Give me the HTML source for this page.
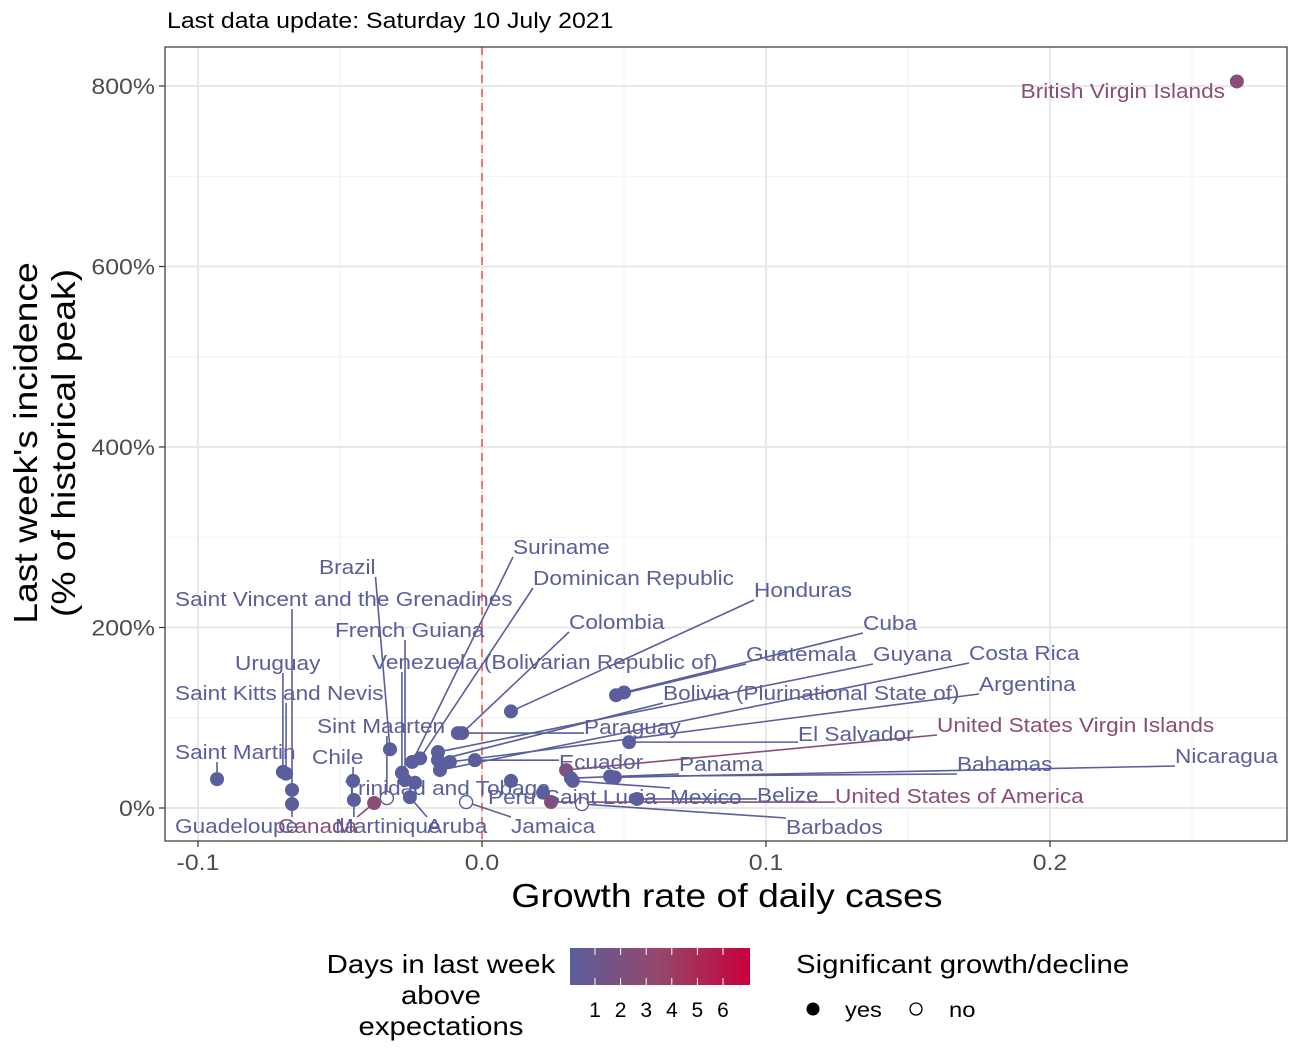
<!DOCTYPE html>
<html><head><meta charset="utf-8"><style>
body{margin:0;background:#fff}
svg{display:block;font-family:"Liberation Sans",Arial,sans-serif}
</style></head><body>
<svg id="chart" width="1299" height="1062" viewBox="0 0 1299 1062" xmlns="http://www.w3.org/2000/svg">
<defs><linearGradient id="cb" x1="0" x2="1" y1="0" y2="0"><stop offset="0" stop-color="#5a5e9c"/><stop offset="0.5" stop-color="#95476a"/><stop offset="1" stop-color="#c8003a"/></linearGradient></defs>
<text class="st" x="167" y="28" font-size="22" fill="#000">Last data update: Saturday 10 July 2021</text>
<rect x="165" y="47" width="1122" height="794" fill="#fff"/>
<g id="grid"></g>
<g id="marks"></g>
<rect x="165" y="47" width="1122" height="794" fill="none" stroke="#333" stroke-width="1.2"/>
<g id="axes"></g>
<text class="st" x="727" y="907" font-size="33" text-anchor="middle" fill="#000">Growth rate of daily cases</text>
<g transform="translate(55,443) rotate(-90)">
<text class="st" x="0" y="-18" font-size="33" text-anchor="middle" fill="#000">Last week's incidence</text>
<text class="st" x="0" y="20" font-size="33" text-anchor="middle" fill="#000">(% of historical peak)</text>
</g>
<g>
<text class="st" x="441" y="973" font-size="26" text-anchor="middle" fill="#000">Days in last week</text>
<text class="st" x="441" y="1004" font-size="26" text-anchor="middle" fill="#000">above</text>
<text class="st" x="441" y="1035" font-size="26" text-anchor="middle" fill="#000">expectations</text>
<rect x="570" y="948" width="180" height="37" fill="url(#cb)"/>
<g id="cbticks"></g>
</g>
<g>
<text class="st" x="796" y="973" font-size="26" fill="#000">Significant growth/decline</text>
<circle cx="813" cy="1009" r="6.5" fill="#000"/>
<text class="st" x="845" y="1017" font-size="21" fill="#000">yes</text>
<circle cx="916" cy="1009" r="6" fill="none" stroke="#000" stroke-width="1.3"/>
<text class="st" x="949" y="1017" font-size="21" fill="#000">no</text>
</g>
</svg>
<script>
const xTicks=[-0.1,0,0.1,0.2];
const xTickLabels=["-0.1","0.0","0.1","0.2"];
const yTicks=[0,200,400,600,800];
const yTickLabels=["0%","200%","400%","600%","800%"];
const countries=["British Virgin Islands","Saint Martin","Uruguay","Saint Kitts and Nevis","Guadeloupe","Saint Vincent and the Grenadines","Chile","Canada","Martinique","Aruba","Sint Maarten","Brazil","Trinidad and Tobago","French Guiana","Venezuela (Bolivarian Republic of)","Suriname","Dominican Republic","Colombia","Honduras","Cuba","Guatemala","Guyana","Costa Rica","Bolivia (Plurinational State of)","Argentina","Paraguay","El Salvador","United States Virgin Islands","Ecuador","Panama","Nicaragua","Bahamas","Peru","Jamaica","Saint Lucia","Mexico","Belize","United States of America","Barbados"];
const growth=[0.2658,-0.0933,-0.0701,-0.0690,-0.0669,-0.0669,-0.0454,-0.0380,-0.0451,-0.0254,-0.0335,-0.0324,-0.0236,-0.0271,-0.0282,-0.0246,-0.0218,-0.0070,0.0102,0.0500,0.0472,-0.0155,-0.0148,-0.0155,-0.0113,-0.0085,0.0518,0.0296,-0.0025,0.0313,0.0468,0.0451,0.0102,-0.0056,0.0215,0.0320,0.0546,0.0243,0.0352];
const incidence=[805,32,40,38,4.4,20,30,5.5,8.9,12,11,65,28,31,39,51,55,83,107,128,125,62,42,53,51,83,73,42,53,33,34,35,30,6.6,17,30,10,6.6,4.4];
const days=[2,1,1,1,1,1,1,2,1,1,1,1,1,1,1,1,1,1,1,1,1,1,1,1,1,1,1,2,1,1,1,1,1,1,1,1,1,2,1];
const significant=[1,1,1,1,1,1,1,1,1,1,0,1,1,1,1,1,1,1,1,1,1,1,1,1,1,1,1,1,1,1,1,1,1,0,1,1,1,1,0];
// label layout (pixel anchors, not data)
const labelLayout=[[1225,98,"end"],[175,759,"start"],[235,670,"start"],[175,700,"start"],[175,833,"start"],[175,606,"start"],[312,764,"start"],[278,833,"start"],[335,833,"start"],[427,833,"start"],[317,733,"start"],[319,574,"start"],[345,795,"start"],[335,637,"start"],[372,669,"start"],[513,554,"start"],[533,585,"start"],[569,629,"start"],[754,597,"start"],[863,630,"start"],[746,661,"start"],[873,661,"start"],[969,660,"start"],[663,700,"start"],[979,691,"start"],[584,734,"start"],[798,741,"start"],[937,732,"start"],[559,769,"start"],[679,771,"start"],[1175,763,"start"],[957,771,"start"],[488,804,"start"],[511,833,"start"],[545,804,"start"],[670,804,"start"],[757,802,"start"],[835,803,"start"],[786,834,"start"]];
const X=v=>482+v*2840, Y=v=>808-v*0.9025;
const col=d=>d>=2?"#8a4d76":"#5a5e9c";
const NS="http://www.w3.org/2000/svg";
const STRETCH=1.13;
function mk(t,a,p){const e=document.createElementNS(NS,t);for(const k in a)e.setAttribute(k,a[k]);p.appendChild(e);return e;}
function stretch(t){const n=t.getComputedTextLength();t.setAttribute('textLength',n*STRETCH);t.setAttribute('lengthAdjust','spacingAndGlyphs');}
const grid=document.getElementById('grid');
[-0.05,0.05,0.15,0.25].forEach(v=>{const l=mk('line',{x1:X(v),x2:X(v),y1:47,y2:841,stroke:'#f2f2f2','stroke-width':1},grid);

});
[100,300,500,700].forEach(v=>{const l=mk('line',{x1:165,x2:1287,y1:Y(v),y2:Y(v),stroke:'#f2f2f2','stroke-width':1},grid);

});
xTicks.forEach(v=>{const l=mk('line',{x1:X(v),x2:X(v),y1:47,y2:841,stroke:'#e8e8e8','stroke-width':2},grid);

});
yTicks.forEach(v=>{const l=mk('line',{x1:165,x2:1287,y1:Y(v),y2:Y(v),stroke:'#e8e8e8','stroke-width':2},grid);

});
const marks=document.getElementById('marks');
const zl=mk('line',{x1:X(0),x2:X(0),y1:47,y2:841,stroke:'#f8766d','stroke-width':2,'stroke-dasharray':'8,6'},marks);


const segs=mk('g',{},marks),pts=mk('g',{},marks),labs=mk('g',{},marks);
countries.forEach((c,i)=>{
 const px=X(growth[i]),py=Y(incidence[i]),L=labelLayout[i],cc=col(days[i]);
 const t=mk('text',{x:L[0],y:L[1],'font-size':20,fill:cc,'text-anchor':L[2]},labs);t.textContent=c;
 
 
 stretch(t);
 const w=t.getComputedTextLength()*0+parseFloat(t.getAttribute('textLength'));
 const x0=L[2]=="end"?L[0]-w:L[0], x1=x0+w, y0=L[1]-16, y1=L[1]+3;
 if(i>0){
  const ex=Math.min(Math.max(px,x0),x1), ey=Math.min(Math.max(py,y0),y1);
  const s=mk('line',{x1:px,y1:py,x2:ex,y2:ey,stroke:cc,'stroke-width':1.6},segs);
  
  
 }
 const p=significant[i]?mk('circle',{cx:px,cy:py,r:7,fill:cc},pts):mk('circle',{cx:px,cy:py,r:6.5,fill:'#fff',stroke:cc,'stroke-width':1.4},pts);
 
 
});
const axes=document.getElementById('axes');
xTicks.forEach((v,i)=>{const k=mk('line',{x1:X(v),x2:X(v),y1:841,y2:847,stroke:'#333','stroke-width':1.2},axes);


const t=mk('text',{x:X(v),y:870,'font-size':22,'text-anchor':'middle',fill:'#4d4d4d'},axes);t.textContent=xTickLabels[i];

});
yTicks.forEach((v,i)=>{const k=mk('line',{x1:159,x2:165,y1:Y(v),y2:Y(v),stroke:'#333','stroke-width':1.2},axes);


const t=mk('text',{x:155,y:Y(v)+8,'font-size':22,'text-anchor':'end',fill:'#4d4d4d'},axes);t.textContent=yTickLabels[i];

});
const cbLabels=["1","2","3","4","5","6"];
const cbt=document.getElementById('cbticks');
cbLabels.forEach((s,i)=>{const x=595+i*25.6;
const a=mk('line',{x1:x,x2:x,y1:948,y2:955,stroke:'#fff','stroke-width':1},cbt);


const b=mk('line',{x1:x,x2:x,y1:978,y2:985,stroke:'#fff','stroke-width':1},cbt);


const t=mk('text',{x:x,y:1017,'font-size':21,'text-anchor':'middle',fill:'#000'},cbt);t.textContent=s;

});
document.querySelectorAll('text.st, #axes text').forEach(stretch);
</script>
</body></html>
